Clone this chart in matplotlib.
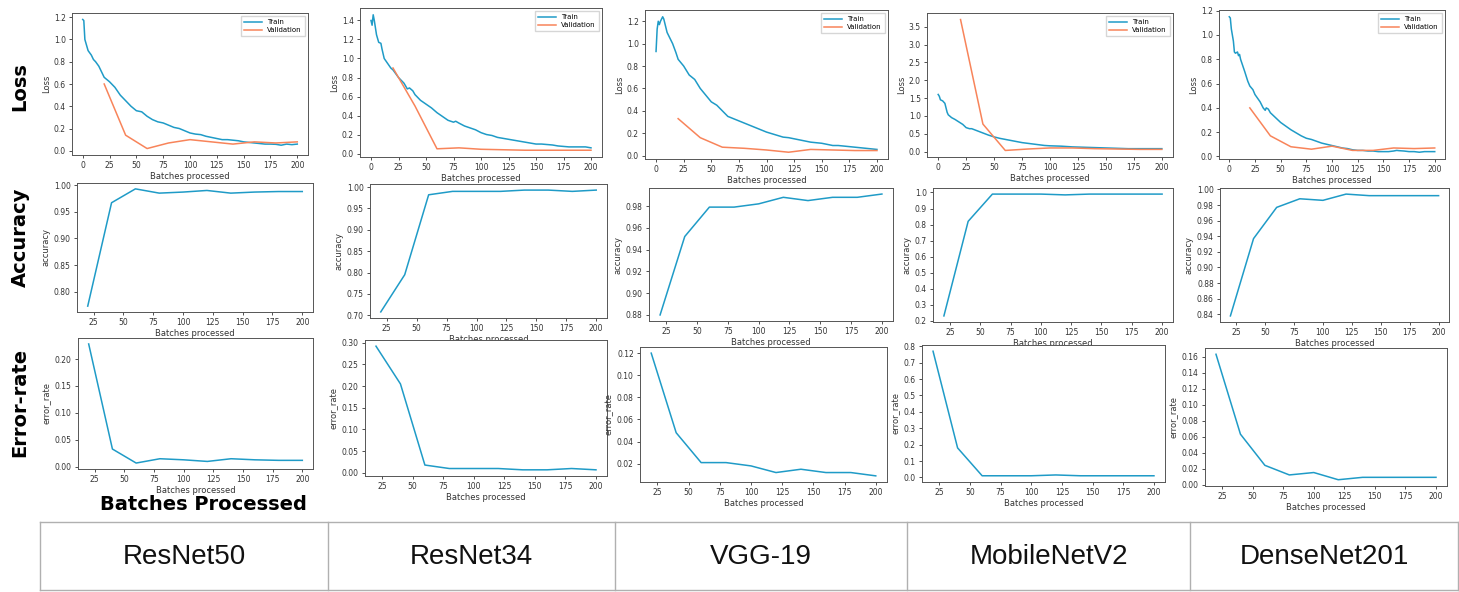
import numpy as np
import matplotlib.pyplot as plt
from matplotlib.lines import Line2D

# --- Data ---
models = ['ResNet50', 'ResNet34', 'VGG-19', 'MobileNetV2', 'DenseNet201']
val_x = [20, 40, 60, 80, 100, 120, 140, 160, 180, 200]

# train loss: (batch, loss) samples
r50_train_x = [0, 1, 2, 5, 8, 10, 12, 15, 18, 20, 25, 30, 35, 40, 45, 50, 55, 60, 65, 70, 75, 80, 85,
               90, 95, 100, 105, 110, 115, 120, 125, 130, 135, 140, 145, 150, 155, 160, 165, 170,
               175, 180, 185, 190, 195, 200]
r50_train_y = [1.18, 1.17, 1.0, 0.90, 0.86, 0.82, 0.80, 0.76, 0.70, 0.66, 0.62, 0.57, 0.50, 0.45,
               0.40, 0.36, 0.35, 0.31, 0.28, 0.26, 0.25, 0.23, 0.21, 0.20, 0.18, 0.16, 0.15, 0.145,
               0.13, 0.12, 0.11, 0.10, 0.10, 0.095, 0.09, 0.08, 0.075, 0.07, 0.065, 0.06, 0.06, 0.058,
               0.05, 0.06, 0.055, 0.06]
r50_val = [0.60, 0.14, 0.02, 0.07, 0.10, 0.08, 0.06, 0.08, 0.07, 0.08]

r34_train_x = [0, 1, 2, 3, 5, 7, 9, 10, 12, 15, 18, 20, 25, 30, 33, 35, 38, 40, 45, 50, 55, 60, 65,
               70, 75, 77, 80, 85, 90, 95, 100, 105, 110, 115, 120, 125, 130, 135, 140, 145, 150,
               155, 160, 165, 170, 175, 180, 185, 190, 195, 200]
r34_train_y = [1.40, 1.35, 1.46, 1.40, 1.25, 1.17, 1.16, 1.10, 1.0, 0.95, 0.90, 0.88, 0.80, 0.74,
               0.68, 0.69, 0.66, 0.62, 0.56, 0.52, 0.48, 0.43, 0.39, 0.35, 0.33, 0.34, 0.32, 0.29,
               0.27, 0.25, 0.22, 0.20, 0.19, 0.17, 0.16, 0.15, 0.14, 0.13, 0.12, 0.11, 0.10, 0.10,
               0.095, 0.09, 0.08, 0.075, 0.07, 0.07, 0.07, 0.07, 0.06]
r34_val = [0.90, 0.50, 0.05, 0.06, 0.045, 0.04, 0.035, 0.035, 0.035, 0.035]

vgg_train_x = [0, 1, 2, 3, 4, 5, 6, 7, 8, 10, 12, 15, 18, 20, 25, 30, 35, 40, 45, 50, 55, 60, 65,
               70, 75, 80, 85, 90, 95, 100, 105, 110, 115, 120, 125, 130, 135, 140, 145, 150, 155,
               160, 165, 170, 175, 180, 185, 190, 195, 200]
vgg_train_y = [0.93, 1.13, 1.20, 1.17, 1.20, 1.22, 1.24, 1.22, 1.18, 1.10, 1.06, 1.00, 0.92, 0.86,
               0.80, 0.72, 0.68, 0.60, 0.54, 0.48, 0.45, 0.40, 0.35, 0.33, 0.31, 0.29, 0.27, 0.25,
               0.23, 0.21, 0.195, 0.18, 0.165, 0.16, 0.15, 0.14, 0.13, 0.12, 0.115, 0.11, 0.10,
               0.09, 0.09, 0.085, 0.08, 0.075, 0.07, 0.065, 0.06, 0.055]
vgg_val = [0.33, 0.16, 0.075, 0.065, 0.05, 0.03, 0.055, 0.05, 0.045, 0.045]

mob_train_x = [0, 1, 2, 4, 6, 8, 9, 12, 15, 20, 22, 25, 28, 30, 35, 40, 45, 50, 55, 60, 65, 70, 75,
               80, 85, 90, 95, 100, 110, 120, 130, 140, 150, 160, 170, 180, 190, 200]
mob_train_y = [1.60, 1.55, 1.45, 1.42, 1.35, 1.10, 1.03, 0.95, 0.90, 0.80, 0.76, 0.67, 0.64, 0.64,
               0.58, 0.52, 0.46, 0.41, 0.37, 0.34, 0.31, 0.28, 0.25, 0.23, 0.21, 0.19, 0.17, 0.16,
               0.15, 0.13, 0.12, 0.11, 0.10, 0.09, 0.08, 0.08, 0.08, 0.08]
mob_val = [3.70, 0.77, 0.03, 0.07, 0.10, 0.10, 0.08, 0.07, 0.06, 0.06]

dn_train_x = [0, 1, 2, 4, 5, 6, 8, 9, 10, 11, 13, 15, 18, 20, 23, 25, 30, 33, 35, 36, 38, 40, 45,
              50, 55, 60, 65, 70, 75, 80, 85, 90, 95, 100, 105, 110, 115, 120, 125, 130, 135, 140,
              145, 150, 155, 160, 163, 165, 170, 175, 180, 185, 190, 195, 200]
dn_train_y = [1.15, 1.14, 1.05, 0.95, 0.86, 0.85, 0.86, 0.83, 0.84, 0.80, 0.75, 0.70, 0.62, 0.58,
              0.55, 0.51, 0.45, 0.40, 0.38, 0.40, 0.39, 0.36, 0.32, 0.28, 0.25, 0.22, 0.195, 0.17,
              0.15, 0.14, 0.125, 0.11, 0.10, 0.09, 0.08, 0.07, 0.065, 0.055, 0.05, 0.05, 0.045,
              0.045, 0.04, 0.04, 0.04, 0.045, 0.05, 0.048, 0.045, 0.04, 0.04, 0.035, 0.04, 0.04, 0.04]
dn_val = [0.40, 0.17, 0.08, 0.06, 0.085, 0.05, 0.05, 0.07, 0.065, 0.07]

r50_acc = [0.773, 0.967, 0.993, 0.985, 0.987, 0.990, 0.985, 0.987, 0.988, 0.988]
r34_acc = [0.708, 0.795, 0.982, 0.990, 0.990, 0.990, 0.993, 0.993, 0.990, 0.993]
vgg_acc = [0.880, 0.952, 0.979, 0.979, 0.982, 0.988, 0.985, 0.988, 0.988, 0.991]
mob_acc = [0.23, 0.82, 0.99, 0.99, 0.99, 0.985, 0.99, 0.99, 0.99, 0.99]
dn_acc = [0.838, 0.937, 0.977, 0.988, 0.986, 0.994, 0.992, 0.992, 0.992, 0.992]

r50_err = [0.228, 0.033, 0.007, 0.015, 0.013, 0.010, 0.015, 0.013, 0.012, 0.012]
r34_err = [0.292, 0.205, 0.018, 0.010, 0.010, 0.010, 0.007, 0.007, 0.010, 0.007]
vgg_err = [0.120, 0.048, 0.021, 0.021, 0.018, 0.012, 0.015, 0.012, 0.012, 0.009]
mob_err = [0.77, 0.18, 0.01, 0.01, 0.01, 0.015, 0.01, 0.01, 0.01, 0.01]
dn_err = [0.163, 0.063, 0.024, 0.012, 0.015, 0.006, 0.009, 0.009, 0.009, 0.009]

train_x = [r50_train_x, r34_train_x, vgg_train_x, mob_train_x, dn_train_x]
train_y = [r50_train_y, r34_train_y, vgg_train_y, mob_train_y, dn_train_y]
val_y = [r50_val, r34_val, vgg_val, mob_val, dn_val]
acc = [r50_acc, r34_acc, vgg_acc, mob_acc, dn_acc]
err = [r50_err, r34_err, vgg_err, mob_err, dn_err]

# y tick steps that differ from matplotlib's auto choice
acc_tick_step = [None, None, None, 0.1, 0.02]
err_tick_step = [None, None, None, 0.1, None]

# --- Layout (pixel boxes: left, top, right, bottom) ---
W, H = 1459, 592
loss_boxes = [(72, 13, 308, 155), (360, 8, 602, 157), (645, 10, 888, 159),
              (927, 13, 1173, 157), (1219, 10, 1445, 159)]
acc_boxes = [(77, 183, 313, 312), (370, 184, 607, 318), (649, 188, 893, 321),
             (933, 188, 1173, 322), (1220, 188, 1449, 322)]
err_boxes = [(78, 338, 313, 469), (365, 340, 607, 476), (640, 347, 887, 482),
             (922, 345, 1165, 482), (1205, 348, 1447, 486)]

BLUE = '#1f9bc7'
ORANGE = '#f8845a'

fig = plt.figure(figsize=(W / 100, H / 100), dpi=100)


def px_axes(box):
    l, t, r, b = box
    return fig.add_axes([l / W, 1 - b / H, (r - l) / W, (b - t) / H])


def style(ax, ylabel):
    ax.tick_params(labelsize=5.5, length=2.5, width=0.6, pad=2, colors='#333333')
    for s in ax.spines.values():
        s.set_color('#555555')
        s.set_linewidth(0.7)
    ax.set_xlabel('Batches processed', fontsize=6, labelpad=1, color='#333333')
    ax.set_ylabel(ylabel, fontsize=6, labelpad=2, color='#333333')


def fix_yticks(ax, step):
    if step is None:
        return
    lo, hi = ax.get_ylim()
    start = np.ceil(lo / step - 1e-6) * step
    ax.set_yticks(np.arange(start, hi + 1e-9, step))
    ax.set_ylim(lo, hi)


for i in range(5):
    ax = px_axes(loss_boxes[i])
    ax.plot(train_x[i], train_y[i], color=BLUE, lw=1.1, label='Train')
    ax.plot(val_x, val_y[i], color=ORANGE, lw=1.1, label='Validation')
    ax.set_xticks([0, 25, 50, 75, 100, 125, 150, 175, 200])
    style(ax, 'Loss')
    ax.legend(loc='upper right', fontsize=5, handlelength=2.5, borderpad=0.4,
              labelspacing=0.3, fancybox=False, edgecolor='#cccccc')

    ax = px_axes(acc_boxes[i])
    ax.plot(val_x, acc[i], color=BLUE, lw=1.1)
    ax.set_xticks([25, 50, 75, 100, 125, 150, 175, 200])
    fix_yticks(ax, acc_tick_step[i])
    style(ax, 'accuracy')

    ax = px_axes(err_boxes[i])
    ax.plot(val_x, err[i], color=BLUE, lw=1.1)
    ax.set_xticks([25, 50, 75, 100, 125, 150, 175, 200])
    fix_yticks(ax, err_tick_step[i])
    style(ax, 'error_rate')

# row labels
for label, y in [('Loss', 87), ('Accuracy', 237), ('Error-rate', 402)]:
    fig.text(20 / W, 1 - y / H, label, rotation=90, fontsize=14, fontweight='bold',
             ha='center', va='center')
fig.text(203 / W, 1 - 505 / H, 'Batches Processed', fontsize=14, fontweight='bold',
         ha='center', va='center')

# model name table at the bottom
tbl_l, tbl_r, tbl_t, tbl_b = 40, 1458, 522, 590
seps = [328, 615, 907, 1190]
edge = '#b0b0b0'
for y in [tbl_t, tbl_b]:
    fig.add_artist(Line2D([tbl_l / W, tbl_r / W], [1 - y / H, 1 - y / H], color=edge, lw=1))
for x in [tbl_l] + seps + [tbl_r]:
    fig.add_artist(Line2D([x / W, x / W], [1 - tbl_t / H, 1 - tbl_b / H], color=edge, lw=1))
cols = [tbl_l] + seps + [tbl_r]
for k, name in enumerate(models):
    cx = (cols[k] + cols[k + 1]) / 2
    fig.text(cx / W, 1 - 557 / H, name, fontsize=20, family='Liberation Sans',
             ha='center', va='center', color='#111111')

fig.savefig('out.png', dpi=100)
